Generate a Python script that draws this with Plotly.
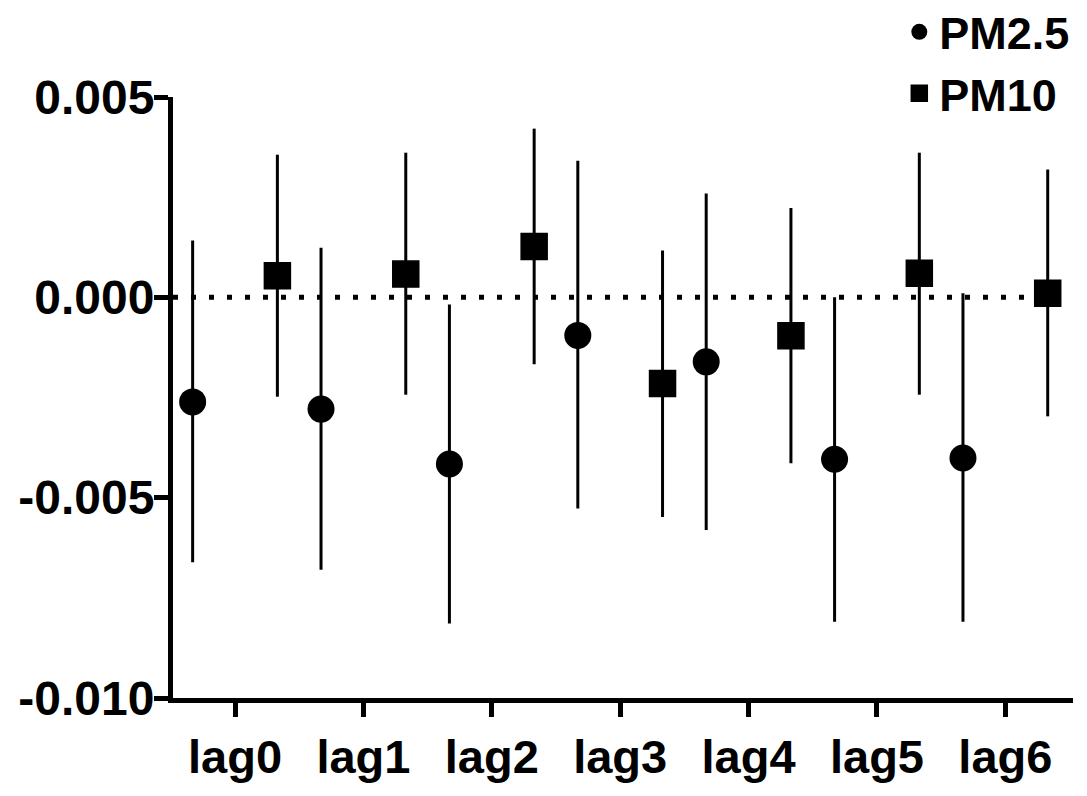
import plotly.graph_objects as go

categories = ["lag0", "lag1", "lag2", "lag3", "lag4", "lag5", "lag6"]

pm25_est = [-0.00261, -0.00279, -0.00416, -0.00095, -0.00161, -0.00404, -0.00401]
pm25_upper = [0.00142, 0.00124, -0.00018, 0.00341, 0.00259, 0.00000, 0.00010]
pm25_lower = [-0.00661, -0.00680, -0.00814, -0.00527, -0.00581, -0.00810, -0.00810]

pm10_est = [0.00054, 0.00058, 0.00127, -0.00215, -0.00096, 0.00060, 0.00010]
pm10_upper = [0.00356, 0.00361, 0.00421, 0.00117, 0.00223, 0.00361, 0.00319]
pm10_lower = [-0.00248, -0.00243, -0.00167, -0.00548, -0.00414, -0.00243, -0.00297]

y_tickvals = [0.005, 0.0, -0.005, -0.010]
y_ticktext = ["0.005", "0.000", "-0.005", "-0.010"]

offset = 0.33
idx = list(range(len(categories)))
x25 = [i - offset for i in idx]
x10 = [i + offset for i in idx]

FONT = dict(family="Liberation Sans, Arial, sans-serif", size=47, color="black", weight="bold")
LFONT = dict(family="Liberation Sans, Arial, sans-serif", size=45, color="black", weight="bold")
YFONT = dict(family="Liberation Sans, Arial, sans-serif", size=48, color="black", weight="bold")

fig = go.Figure()
fig.add_trace(go.Scatter(
    x=x25, y=pm25_est, mode="markers", name="PM2.5",
    marker=dict(symbol="circle", size=27, color="black"),
    error_y=dict(type="data", symmetric=False,
                 array=[u - c for u, c in zip(pm25_upper, pm25_est)],
                 arrayminus=[c - l for c, l in zip(pm25_est, pm25_lower)],
                 width=0, thickness=3, color="black"),
))
fig.add_trace(go.Scatter(
    x=x10, y=pm10_est, mode="markers", name="PM10",
    marker=dict(symbol="square", size=26, color="black", line=dict(width=1.5, color="black")),
    error_y=dict(type="data", symmetric=False,
                 array=[u - c for u, c in zip(pm10_upper, pm10_est)],
                 arrayminus=[c - l for c, l in zip(pm10_est, pm10_lower)],
                 width=0, thickness=3, color="black"),
))

fig.add_shape(type="line", xref="paper", x0=0, x1=1, yref="y", y0=0, y1=0,
              line=dict(color="black", width=5, dash="5px,13px"), layer="below")

# page body has an 8px default margin, so the figure is sized/offset to compensate
fig.update_layout(
    width=1079, height=788,
    margin=dict(l=165, r=14, t=89, b=98, autoexpand=False),
    paper_bgcolor="white", plot_bgcolor="white",
    font=FONT,
    showlegend=True,
    legend=dict(x=0.807, xanchor="left", y=1.168, yanchor="top",
                font=LFONT, bgcolor="rgba(0,0,0,0)", tracegroupgap=0, itemwidth=30),
    xaxis=dict(range=[-0.483, 6.527], tickvals=idx, ticktext=categories,
               showline=True, linecolor="black", linewidth=5, mirror=False,
               ticks="outside", ticklen=14, tickwidth=5, tickcolor="black",
               showgrid=False, zeroline=False, tickfont=FONT, automargin=False),
    yaxis=dict(range=[-0.010, 0.005], tickvals=y_tickvals, ticktext=y_ticktext,
               showline=True, linecolor="black", linewidth=5,
               ticks="outside", ticklen=14, tickwidth=5, tickcolor="black",
               ticklabelstandoff=-10,
               showgrid=False, zeroline=False, tickfont=YFONT, automargin=False),
)

fig.write_html("out.html")
